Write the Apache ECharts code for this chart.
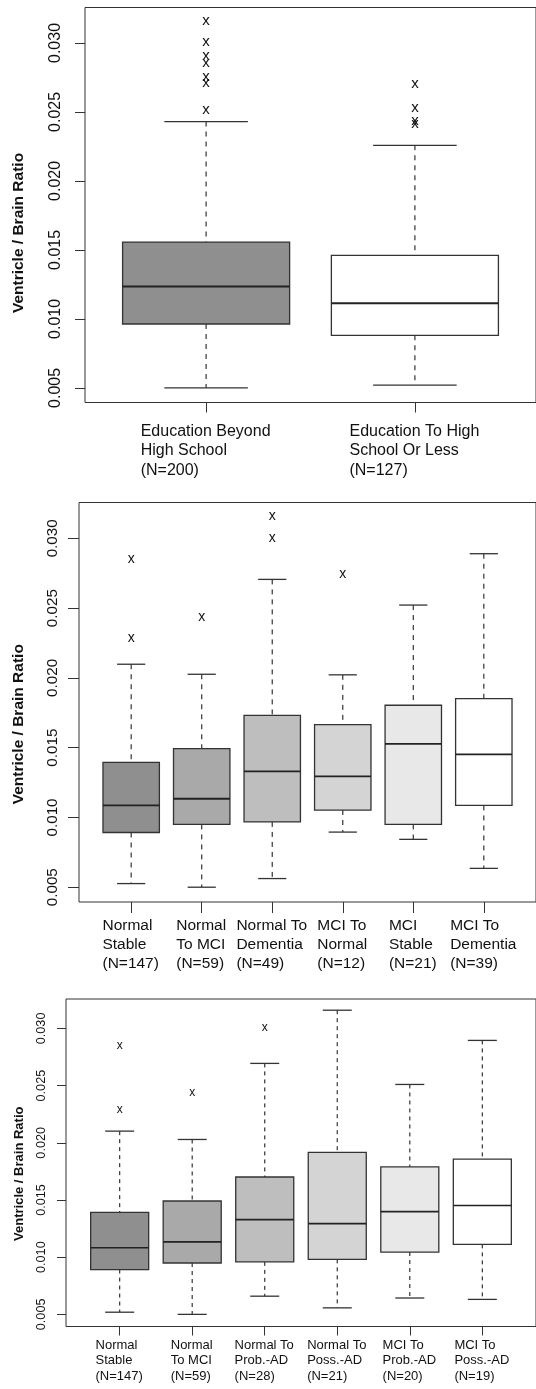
<!DOCTYPE html>
<html><head><meta charset="utf-8">
<script src="https://cdn.jsdelivr.net/npm/echarts@6/dist/echarts.min.js"></script>
<style>html,body{margin:0;padding:0;background:#fff}#c{width:536px;height:1389px}</style>
</head><body><div id="c"></div>
<script>
// ---------- DATA ----------
const yTicks = [0.005, 0.010, 0.015, 0.020, 0.025, 0.030];
const yTitle = "Ventricle / Brain Ratio";

// Panel 1: education
const p1Categories = [["Education Beyond", "High School", "(N=200)"], ["Education To High", "School Or Less", "(N=127)"]];
const p1Lower  = [0.0050, 0.0052];
const p1Q1     = [0.00963, 0.00881];
const p1Median = [0.01235, 0.01114];
const p1Q3     = [0.01557, 0.0146];
const p1Upper  = [0.0243, 0.02258];
const p1Outliers = [[1, 0.03155], [1, 0.0300], [1, 0.0290], [1, 0.02847], [1, 0.02746], [1, 0.02707], [1, 0.02505],
                    [2, 0.02697], [2, 0.02525], [2, 0.02428], [2, 0.02404]];

// Panel 2: transitions incl. dementia
const p2Categories = [["Normal", "Stable", "(N=147)"], ["Normal", "To MCI", "(N=59)"], ["Normal To", "Dementia", "(N=49)"],
                      ["MCI To", "Normal", "(N=12)"], ["MCI", "Stable", "(N=21)"], ["MCI To", "Dementia", "(N=39)"]];
const p2Lower  = [0.00526, 0.0050, 0.00562, 0.00895, 0.00843, 0.00635];
const p2Q1     = [0.00892, 0.0095, 0.00968, 0.01053, 0.0095, 0.01086];
const p2Median = [0.01086, 0.01134, 0.0133, 0.01294, 0.01527, 0.01452];
const p2Q3     = [0.01395, 0.01493, 0.01732, 0.01665, 0.01804, 0.01852];
const p2Upper  = [0.02098, 0.02026, 0.02706, 0.02022, 0.02522, 0.0289];
const p2Outliers = [[1, 0.02842], [1, 0.0228], [2, 0.02428], [3, 0.03153], [3, 0.02995], [4, 0.02734]];

// Panel 3: transitions incl. AD type
const p3Categories = [["Normal", "Stable", "(N=147)"], ["Normal", "To MCI", "(N=59)"], ["Normal To", "Prob.-AD", "(N=28)"],
                      ["Normal To", "Poss.-AD", "(N=21)"], ["MCI To", "Prob.-AD", "(N=20)"], ["MCI To", "Poss.-AD", "(N=19)"]];
const p3Lower  = [0.00519, 0.0050, 0.00659, 0.00557, 0.00643, 0.00631];
const p3Q1     = [0.00892, 0.00949, 0.00959, 0.00981, 0.01045, 0.01112];
const p3Median = [0.01083, 0.01134, 0.01328, 0.01293, 0.01398, 0.01452];
const p3Q3     = [0.01392, 0.01491, 0.01701, 0.01917, 0.0179, 0.01857];
const p3Upper  = [0.02102, 0.02029, 0.02694, 0.03159, 0.0251, 0.02895];
const p3Outliers = [[1, 0.02844], [1, 0.02284], [2, 0.02433], [3, 0.02997]];

// ---------- STYLE ----------
const FONT = "'Liberation Sans', Arial, Helvetica, sans-serif";
const fills1 = ['#8f8f8f', '#ffffff'];
const fills6 = ['#8f8f8f', '#a9a9a9', '#bebebe', '#d4d4d4', '#e8e8e8', '#ffffff'];

const panels = [
  { cats: p1Categories, lo: p1Lower, q1: p1Q1, med: p1Median, q3: p1Q3, hi: p1Upper, out: p1Outliers, fills: fills1,
    grid: { left: 85, top: 7.5, width: 453, height: 395 }, font: 16, tickFont: 16, titleFont: 15.5, lh: 19.6,
    yMargin: 21, xMargin: 19, nameGap: 58, titleShift: 56, tickLen: 10, dash: [5, 5], xFont: 15, medW: 2 },
  { cats: p2Categories, lo: p2Lower, q1: p2Q1, med: p2Median, q3: p2Q3, hi: p2Upper, out: p2Outliers, fills: fills6,
    grid: { left: 79, top: 502.5, width: 459, height: 399.5 }, font: 15.5, tickFont: 15.2, titleFont: 15.5, lh: 19,
    yMargin: 19, xMargin: 14, nameGap: 52, titleShift: 44, tickLen: 11, dash: [5, 5], xFont: 14, medW: 1.8 },
  { cats: p3Categories, lo: p3Lower, q1: p3Q1, med: p3Median, q3: p3Q3, hi: p3Upper, out: p3Outliers, fills: fills6,
    grid: { left: 66, top: 999, width: 470, height: 327.5 }, font: 13, tickFont: 12.7, titleFont: 13, lh: 15.6,
    yMargin: 18, xMargin: 11, nameGap: 40, titleShift: 22, tickLen: 9, dash: [4, 4], xFont: 12, medW: 1.6 }
];

const measureCtx = document.createElement('canvas').getContext('2d');
function textW(s, size) { measureCtx.font = size + 'px ' + FONT; return measureCtx.measureText(s).width; }

const grids = [], xAxes = [], yAxes = [], series = [];
panels.forEach((p, i) => {
  const n = p.cats.length;
  const pad = 0.04 * n;
  grids.push(Object.assign({ show: true, borderColor: '#333', borderWidth: 1, containLabel: false }, p.grid));
  const rich = {};
  p.cats.forEach((lines, k) => {
    const w = Math.max(...lines.map(s => textW(s, p.font))) + 1;
    rich['r' + k] = { width: w, align: 'left', fontSize: p.font, fontFamily: FONT, color: '#111', lineHeight: p.lh };
  });
  const catIdx = p.cats.map((_, k) => k + 1);
  xAxes.push({
    gridIndex: i, type: 'value', min: 0.5 - pad, max: n + 0.5 + pad,
    axisLine: { show: false }, splitLine: { show: false },
    axisTick: { show: true, customValues: catIdx, length: p.tickLen, lineStyle: { color: '#333', width: 1 } },
    axisLabel: {
      show: true, customValues: catIdx, margin: p.xMargin, align: 'center', verticalAlign: 'top',
      formatter: v => { const k = Math.round(v) - 1; return p.cats[k].map(s => '{r' + k + '|' + s + '}').join('\n'); },
      rich: rich
    }
  });
  yAxes.push({
    gridIndex: i, type: 'value', min: 0.00394, max: 0.03257,
    axisLine: { show: false }, splitLine: { show: false },
    axisTick: { show: true, customValues: yTicks, length: p.tickLen, lineStyle: { color: '#333', width: 1 } },
    axisLabel: { show: true, customValues: yTicks, rotate: 90, margin: p.yMargin, fontSize: p.tickFont, fontFamily: FONT, color: '#111',
      formatter: v => v.toFixed(3) },
    name: yTitle, nameLocation: 'middle', nameGap: p.nameGap, nameRotate: 90,
    nameTextStyle: { fontSize: p.titleFont, fontWeight: 'bold', fontFamily: FONT, color: '#111', padding: [0, p.titleShift, 0, 0] }
  });
  const boxData = p.cats.map((_, k) => [k + 1, p.lo[k], p.q1[k], p.med[k], p.q3[k], p.hi[k]]);
  series.push({
    type: 'custom', xAxisIndex: i, yAxisIndex: i, data: boxData, silent: true,
    encode: { x: 0, y: [1, 2, 3, 4, 5] },
    renderItem: (params, api) => {
      const x = api.value(0), lo = api.value(1), q1 = api.value(2), med = api.value(3), q3 = api.value(4), hi = api.value(5);
      const L = api.coord([x - 0.4, q3]), R = api.coord([x + 0.4, q1]);
      const cx = api.coord([x, med])[0];
      const cL = api.coord([x - 0.2, hi])[0], cR = api.coord([x + 0.2, hi])[0];
      const yLo = api.coord([x, lo])[1], yHi = api.coord([x, hi])[1], yMed = api.coord([x, med])[1];
      const stroke = '#333';
      return { type: 'group', children: [
        { type: 'line', shape: { x1: cx, y1: yHi, x2: cx, y2: L[1] }, style: { stroke: stroke, lineWidth: 1.2, lineDash: p.dash } },
        { type: 'line', shape: { x1: cx, y1: R[1], x2: cx, y2: yLo }, style: { stroke: stroke, lineWidth: 1.2, lineDash: p.dash } },
        { type: 'line', shape: { x1: cL, y1: yHi, x2: cR, y2: yHi }, style: { stroke: stroke, lineWidth: 1.3 } },
        { type: 'line', shape: { x1: cL, y1: yLo, x2: cR, y2: yLo }, style: { stroke: stroke, lineWidth: 1.3 } },
        { type: 'rect', shape: { x: L[0], y: L[1], width: R[0] - L[0], height: R[1] - L[1] },
          style: { fill: p.fills[params.dataIndex], stroke: stroke, lineWidth: 1.3 } },
        { type: 'line', shape: { x1: L[0], y1: yMed, x2: R[0], y2: yMed }, style: { stroke: '#222', lineWidth: p.medW } }
      ] };
    }
  });
  series.push({
    type: 'custom', xAxisIndex: i, yAxisIndex: i, data: p.out, silent: true,
    encode: { x: 0, y: 1 },
    renderItem: (params, api) => {
      const pt = api.coord([api.value(0), api.value(1)]);
      return { type: 'text', x: pt[0], y: pt[1] - 1,
        style: { text: 'x', fontSize: p.xFont, fontFamily: FONT, fill: '#111', align: 'center', verticalAlign: 'middle' } };
    }
  });
});

const chart = echarts.init(document.getElementById('c'), null, { renderer: 'canvas', width: 536, height: 1389 });
chart.setOption({ animation: false, backgroundColor: '#ffffff', grid: grids, xAxis: xAxes, yAxis: yAxes, series: series });
</script></body></html>
